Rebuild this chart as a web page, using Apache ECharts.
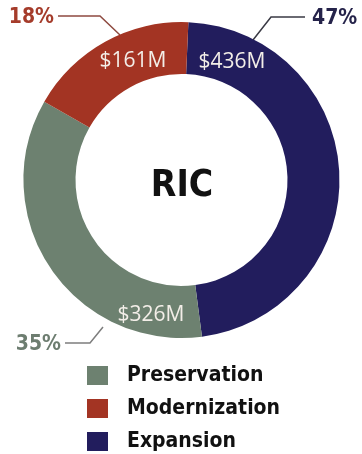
<!DOCTYPE html>
<html>
<head>
<meta charset="utf-8">
<script src="https://cdn.jsdelivr.net/npm/echarts@6/dist/echarts.min.js"></script>
<style>
  html, body { margin: 0; padding: 0; background: #ffffff; }
  #chart { width: 362px; height: 454px; }
</style>
</head>
<body>
<div id="chart"></div>
<script>
// Funding split for RIC, in millions of dollars
const categories = ['Expansion', 'Preservation', 'Modernization'];
const amounts = [436, 326, 161];
const shareLabels = ['47%', '35%', '18%'];
const legendOrder = ['Preservation', 'Modernization', 'Expansion'];
const centerTitle = 'RIC';

const colors = {
  Expansion: '#221d5d',
  Preservation: '#6d8170',
  Modernization: '#a33423'
};

const narrowBold = '"DejaVu Sans Condensed", "Liberation Sans Narrow", sans-serif';

// Where each amount sits inside the ring, and its outside share callout
const amountLabelPos = {
  Expansion: [232, 62],
  Preservation: [151, 315],
  Modernization: [133, 61]
};
const callouts = {
  Expansion: { pts: [[253, 40], [271, 17], [305, 17]], text: [312, 19], align: 'left', line: '#3a3a44', color: '#25234a' },
  Preservation: { pts: [[103, 327], [90, 343], [65, 343]], text: [61, 345], align: 'right', line: '#7d7d7d', color: '#6d7d70' },
  Modernization: { pts: [[120, 35], [100, 16], [58, 16]], text: [54, 18], align: 'right', line: '#8e4a40', color: '#a53c2b' }
};

const chart = echarts.init(document.getElementById('chart'));

const graphics = [];
categories.forEach((name, i) => {
  const c = callouts[name];
  graphics.push({
    type: 'polyline',
    shape: { points: c.pts },
    style: { stroke: c.line, lineWidth: 1.5, fill: null },
    silent: true
  });
  graphics.push({
    type: 'text',
    x: c.text[0],
    y: c.text[1],
    style: {
      text: shareLabels[i],
      fill: c.color,
      font: 'bold 21px ' + narrowBold,
      textAlign: c.align,
      textVerticalAlign: 'middle'
    },
    silent: true
  });
});
graphics.push({
  type: 'text',
  x: 182,
  y: 186,
  style: {
    text: centerTitle,
    fill: '#111111',
    font: 'bold 37px ' + narrowBold,
    textAlign: 'center',
    textVerticalAlign: 'middle'
  },
  silent: true
});

chart.setOption({
  animation: false,
  backgroundColor: '#ffffff',
  legend: {
    data: legendOrder,
    orient: 'vertical',
    left: 87,
    top: 365,
    padding: 0,
    height: 100,
    icon: 'rect',
    itemWidth: 21,
    itemHeight: 19,
    itemGap: 12,
    textStyle: {
      color: '#111111',
      fontFamily: narrowBold,
      fontWeight: 'bold',
      fontSize: 21,
      padding: [0, 0, 0, 14]
    }
  },
  graphic: graphics,
  series: [{
    type: 'pie',
    center: [181.5, 180],
    radius: [106, 158],
    startAngle: 87.5,
    clockwise: true,
    silent: true,
    data: categories.map((name, i) => ({
      name: name,
      value: amounts[i],
      itemStyle: { color: colors[name] }
    })),
    label: {
      show: true,
      position: 'inside',
      formatter: p => '$' + p.value + 'M',
      color: '#f3eee8',
      fontFamily: '"Open Sans", "Noto Sans", sans-serif',
      fontSize: 21
    },
    labelLine: { show: false },
    labelLayout: params => {
      const name = categories[params.dataIndex];
      const pos = amountLabelPos[name];
      return { x: pos[0], y: pos[1], align: 'center', verticalAlign: 'middle' };
    }
  }]
});
</script>
</body>
</html>
